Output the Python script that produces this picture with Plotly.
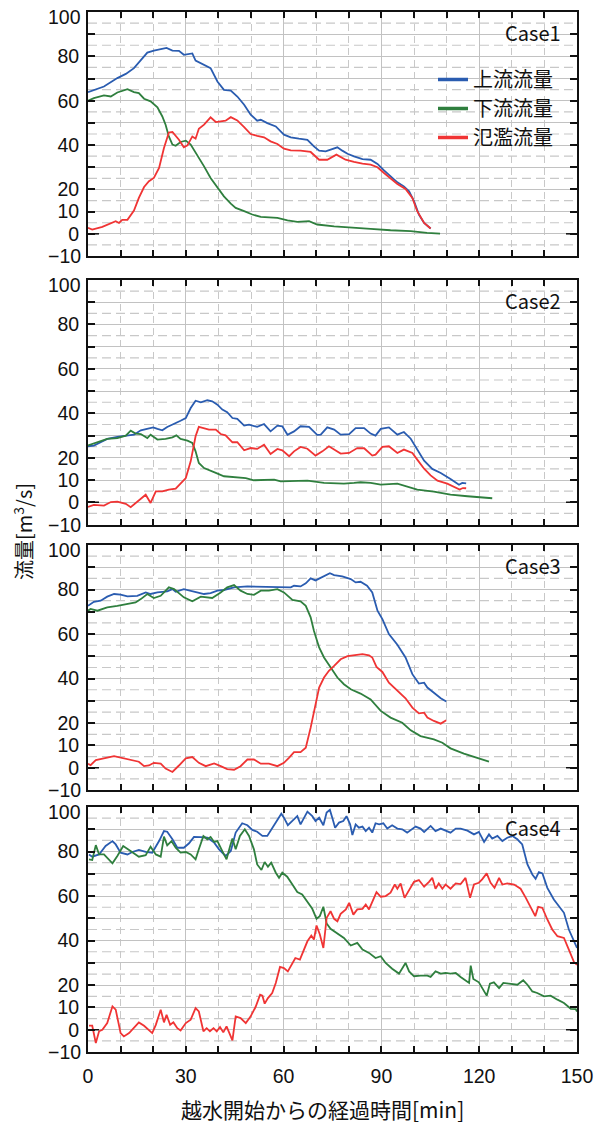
import plotly.graph_objects as go
from plotly.subplots import make_subplots

# ---------------- Case1 ----------------
c1_up_t = [0, 4.9, 9, 11.6, 14.1, 16.2, 18.2, 20.2, 22.3, 24.1, 25.9, 27.9, 29.4, 32, 33, 35.6, 37.6,
           39.7, 41.7, 43.8, 45.8, 47.9, 49.9, 51.9, 53, 55, 57.6, 60.1, 62.2, 64.7, 67.3, 69.3, 70.9,
           72.9, 74.9, 76.5, 78, 79.6, 81.6, 84.2, 86.7, 88.8, 90.8, 92.8, 94.9, 96.9, 98.5, 100,
           101.5, 103.1, 105.1]
c1_up_q = [63.9, 66.4, 70.2, 72.1, 74.7, 78.4, 81.7, 82.6, 83.2, 83.8, 82.6, 82.5, 80.7, 81.3, 78.1,
           76.2, 74.7, 68.7, 64.9, 64.6, 61.9, 58.2, 53.7, 51, 51.4, 49.9, 48.4, 44.7, 43.5, 42.9, 42.4,
           39.4, 37.5, 37.2, 38.4, 39, 37.5, 36.1, 34.9, 33.7, 33.4, 31.5, 28.6, 25.9, 23.2, 21.4, 19.2,
           14.7, 8.7, 4.9, 2.4]

c1_dn_t = [0, 1.8, 4.9, 7, 9, 12.1, 14.1, 15.6, 17.2, 19.2, 21.3, 22.8, 23.8, 24.8, 25.9, 26.9, 28.4,
           30, 31.5, 33.5, 35.6, 37.6, 39.7, 41.7, 43.8, 45.3, 47.9, 50.4, 53, 58.1, 61.2, 64.2, 67.8,
           70.3, 75.5, 80.6, 86.7, 92.8, 99, 104, 108]
c1_dn_q = [60, 61.2, 62.4, 61.9, 63.7, 65.2, 63.9, 63.4, 60.9, 59.7, 57, 52.9, 49.2, 43.9, 40.2, 39.7,
           41.4, 42, 40.2, 35.7, 30.4, 25.2, 21, 16.9, 13.6, 11.7, 10.2, 8.7, 7.6, 7.2, 6.1, 5.4, 5.7,
           4.2, 3.4, 2.7, 2.2, 1.6, 1.2, 0.4, 0.1]

c1_ov_t = [0, 1.3, 4.4, 7, 8.5, 9.5, 10.5, 12.1, 14.1, 15.6, 17.2, 18.7, 20.2, 21.8, 23.3, 24.8, 25.9,
           27.9, 29.4, 30.5, 32, 33, 34, 35.6, 37.6, 39.2, 40.7, 42.2, 43.8, 45.8, 47.9, 49.9, 51.9,
           54, 56, 58.1, 60.1, 62.2, 65.2, 68.3, 70.9, 73.4, 76.2, 79, 81.6, 84.2, 86.7, 88.8, 90.8,
           92.8, 94.9, 97.4, 99.5, 101, 103.1, 105.1]
c1_ov_q = [2.7, 1.9, 3.1, 4.9, 5.7, 4.9, 6.3, 6.3, 10.5, 16.2, 21.1, 23.7, 25.2, 29.7, 38.7, 45.7, 45.9,
           42.4, 39, 39.9, 43.9, 42.9, 47.4, 49.2, 52.5, 50.4, 50.7, 51, 52.6, 51.1, 48.1, 45, 44.2,
           43.5, 41.7, 40.5, 38.4, 37.6, 37.5, 36.9, 33.4, 33.4, 35.7, 33.4, 32.4, 31.6, 31.2, 30, 27.4,
           24.9, 22.5, 20.2, 16.2, 10.2, 4.9, 2.4]

# ---------------- Case2 ----------------
c2_up_t = [0, 1.8, 3.9, 5.9, 9, 12.1, 14.1, 16.2, 18.2, 20, 21.3, 22.8, 24.3, 26.4, 28.4, 30, 31.5,
           33, 34.6, 36.6, 38.1, 39.7, 41.2, 42.7, 44.3, 45.8, 47.9, 49.4, 51.9, 54, 56, 58.1, 59.6,
           61.2, 63.2, 65.2, 67.8, 70.3, 71.4, 73.4, 75.5, 77.5, 80.1, 82.1, 84.7, 86.7, 88.2, 89.8,
           92.3, 94.9, 96.9, 99, 101, 103.1, 105.6, 108.2, 111.2, 113.8, 114.8, 116]
c2_up_q = [25.2, 25.5, 27, 28.5, 29.4, 30, 30.4, 32.4, 33.1, 33.7, 33, 32.4, 33.9, 35.2, 36.7, 37.9,
           42.4, 45.7, 45, 45.9, 45.4, 43.9, 41.7, 40.5, 37.9, 37.5, 34.5, 34.9, 33.9, 35.2, 31.9, 34.5,
           34.2, 30.4, 31.9, 34.2, 33.9, 30.3, 30.4, 33.7, 32.7, 30.4, 30.7, 33.4, 33.4, 30.9, 30, 33,
           33.7, 30.4, 31.6, 28.6, 23.7, 18.7, 15, 13.2, 10.5, 7.9, 8.7, 8.5]

c2_dn_t = [0, 2.9, 5.9, 9, 11.6, 13.1, 14.6, 16.2, 18.2, 19.2, 21.3, 23.8, 25.9, 27.1, 28.4, 30.5, 32,
           33, 34, 35.6, 37.1, 39.2, 41.7, 44.8, 46.8, 48.4, 50.9, 54.5, 57.1, 59.1, 64.2, 67.3, 72.4,
           78.5, 81.6, 83.6, 86.7, 89.8, 94.9, 98, 101, 106.1, 111.2, 116.4, 121.5, 124]
c2_dn_q = [25.6, 27, 28.5, 28.9, 30, 32.2, 30.9, 30.7, 28.9, 30.4, 28.2, 28.5, 29.2, 30.1, 28.5, 27.7,
           26.7, 22.9, 17.7, 15.4, 14.4, 13.2, 11.7, 11.4, 10.9, 10.9, 9.9, 9.9, 10.2, 9.4, 9.4, 9.7,
           8.7, 8.4, 8.7, 9, 8.7, 7.9, 8.4, 7.2, 5.7, 4.8, 3.4, 2.7, 2.1, 1.8]

c2_ov_t = [0, 1.8, 4.9, 7, 9, 11.6, 13.1, 15.1, 17.7, 19.2, 20.8, 22.8, 24.8, 26.9, 28.4, 30, 31.5, 33,
           34, 35.6, 37.1, 39.2, 40.7, 42.2, 44.3, 45.8, 47.9, 49.9, 51.9, 54, 56, 58.1, 59.6, 61.7,
           63.2, 65.2, 67.3, 69.8, 71.9, 73.9, 77.5, 80.1, 82.6, 84.7, 87.2, 88.2, 90.3, 92.3, 94.9,
           96.9, 99.5, 101, 103.1, 105.1, 107.2, 110.2, 112.3, 114, 115, 116]
c2_ov_q = [-2.1, -1.2, -1.5, 0.1, 0.3, -0.7, -2.2, 0.3, 3.4, -0.3, 4.9, 4.9, 5.7, 6.1, 8.4, 10.9, 18.4,
           29.7, 33.9, 33.4, 32.7, 32.7, 30.7, 30.1, 27, 27, 23.4, 24.4, 24, 25.9, 21.7, 24, 23.4, 20.7,
           22.9, 24.9, 24.1, 21, 22.9, 25.2, 21.9, 22.2, 24.4, 24.3, 21, 21.4, 24.9, 25.2, 22.2, 23.7,
           22.2, 19.2, 15.1, 12.1, 9.7, 8.4, 6.9, 5.7, 6.4, 6.3]

# ---------------- Case3 ----------------
c3_up_t = [0, 1.8, 3.9, 5.9, 8, 10, 12.1, 15.1, 17.7, 19.2, 21.3, 24.3, 25.9, 26.9, 29.4, 32.5, 35.6,
           37.6, 39.7, 41.7, 44.8, 48.9, 51.9, 56, 60.1, 62.2, 63.2, 65.2, 66.8, 68.3, 69.8, 71.9,
           74.2, 75.5, 78, 80.6, 82.1, 83.6, 85.6, 87.2, 88.8, 90.3, 92.3, 94.9, 97.4, 99.5, 101.5,
           103.1, 104.1, 106.1, 108.2, 109.9]
c3_up_q = [72.7, 74.5, 75, 76.8, 78, 77.7, 76.9, 77.2, 78.7, 78, 78.7, 79.2, 80.2, 79, 80.2, 79.2, 78,
           78.4, 79.5, 79.8, 81, 81.4, 81.3, 81.4, 81, 81, 81.7, 81.4, 82.8, 85, 84.1, 85.8, 87.3, 86.5,
           85.9, 84.7, 83.2, 83.5, 81.7, 78.7, 70.5, 66.7, 60, 55.2, 49.5, 42, 37.8, 38.2, 36, 33.7,
           31.2, 29.7]

c3_dn_t = [0, 0.8, 2.9, 5.9, 9, 12.1, 14.6, 16.2, 18.2, 20.2, 22.3, 24.8, 26.4, 29.4, 32, 34.6, 38.1,
           40.7, 42.7, 44.8, 46.8, 48.9, 50.9, 53, 55.5, 58.1, 60.1, 62.7, 65.2, 66.8, 68.3, 69.3,
           70.9, 72.4, 74.4, 76.5, 78.5, 80.6, 83.6, 86.7, 89.8, 92.8, 96.4, 99, 102, 106.1, 108.7,
           111.2, 115.3, 118.9, 121.5, 123]
c3_dn_q = [70.5, 71.3, 70.5, 72, 72.7, 73.5, 74.2, 75.7, 78, 76.2, 77.2, 81, 80.2, 76.5, 74.7, 76.8,
           76.2, 78.7, 81, 82, 79.5, 78, 77.6, 79.5, 79.5, 80.2, 78.7, 75.3, 74.7, 72.7, 67.5, 61.5,
           54, 49.5, 45, 40.5, 37.5, 35.2, 33.3, 30.7, 25.5, 22.5, 20.2, 16.8, 14.2, 12.7, 11.2, 8.7,
           6.3, 4.5, 3.4, 2.7]

c3_ov_t = [0, 0.8, 2.4, 3.9, 5.9, 8, 10, 12.1, 14.1, 15.6, 17.2, 18.7, 20.2, 22.3, 23.8, 25.9, 27.9,
           30, 32, 34, 36.1, 38.7, 40.7, 42.7, 44.8, 46.8, 48.9, 50.9, 53, 55.5, 58.1, 60.1, 61.7,
           63.2, 65.2, 66.8, 68.3, 69.8, 70.9, 72.4, 73.9, 75.5, 77.5, 79.6, 82.1, 84.2, 86.2, 87.2,
           88.5, 90.3, 92.3, 94.9, 97.4, 99.5, 101.5, 103.1, 104.1, 106.1, 108.2, 109.9]
c3_ov_q = [1.8, 1.2, 3.4, 4, 4.5, 5.2, 4.5, 3.7, 3.3, 2.7, 0.7, 1, 2.2, 1.8, -0.4, -1.9, 1, 4.2, 4.8,
           2.2, 0.7, 1.9, 0.7, -0.6, -0.9, 0.7, 3.7, 3.7, 1.8, 1.8, 0.7, 2.2, 4.5, 7, 7, 9, 18, 28.5,
           36, 40.5, 43.5, 45.7, 48.7, 50.1, 50.5, 51, 50.5, 49.5, 45.3, 43, 38.2, 34.8, 31.2, 27, 24.4,
           24.7, 22.5, 21, 19.8, 21.3]

# ---------------- Case4 ----------------
c4_up_t = [0.3, 1.3, 3.4, 5.4, 7.5, 8.5, 10, 12.1, 13.6, 15.6, 17.7, 19.7, 21.8, 23.3, 24.3, 25.9,
           27.4, 29.4, 31, 32.5, 34.6, 36.6, 38.7, 40.2, 42.2, 43.8, 45.3, 47.3, 48.9, 50.4, 51.9,
           53.5, 55, 56.5, 58.1, 59.3, 60.1, 61.3, 62.6, 64.2, 65.2, 66.3, 67.3, 68.8, 69.8, 70.9,
           72.2, 73.2, 74.2, 75, 75.8, 77, 78.3, 79.3, 80.4, 81.1, 82.1, 83.1, 84.2, 85.2, 86.2, 87.2,
           88.2, 89.3, 90.6, 91.8, 93.3, 94.9, 96.4, 97.9, 99.5, 100.5, 102, 103.1, 105.1, 106.6,
           108.2, 109.7, 111.2, 112.8, 114.3, 116.4, 118.4, 119.9, 121.5, 123, 124, 125.6, 127.1,
           128.6, 130.2, 131.7, 133.2, 134.8, 136.3, 137.3, 138.3, 139.4, 140.9, 142.9, 144.5, 146,
           147.5, 149.1, 150]
c4_up_q = [78.7, 77.7, 78.7, 82.5, 84.7, 83.2, 79.5, 78.7, 79.8, 80.7, 79.9, 79.5, 84.7, 89.2, 88.9,
           85.5, 81.7, 81.7, 83.7, 86.6, 86.5, 86.2, 84, 81, 78, 80.2, 88.5, 92.7, 91.8, 89.7, 88.9,
           87, 87, 90.7, 94.5, 97, 95.2, 91.8, 93.7, 95.9, 92.2, 95.2, 97.9, 95.9, 93.7, 95.2, 91.8,
           97.5, 98.7, 94.8, 90.7, 93, 93.7, 95.9, 92.2, 87.4, 92.2, 90.7, 91.2, 89.2, 90.7, 88.5,
           92.7, 92.2, 92.7, 90.3, 91.8, 90.3, 90, 88.5, 90, 91.2, 90.3, 88.8, 91.5, 89.2, 90.3, 89.4,
           88.5, 90.3, 90.3, 89.4, 87.7, 88.8, 84.3, 87.7, 85.8, 87, 84.7, 86.2, 87, 85.5, 83.2, 74.2,
           69.7, 67.8, 70.8, 70.2, 63.7, 58.5, 55.5, 52.5, 45, 39.7, 36.7]

c4_dn_t = [0.3, 1.3, 2.4, 3.4, 4.9, 7.5, 9, 10.8, 12.6, 14.1, 15.6, 17.7, 19.2, 20.8, 22.3, 23.3,
           24.3, 25.6, 26.9, 28.4, 30, 31.5, 33, 34, 35.4, 36.6, 37.6, 38.7, 39.7, 41.2, 42.5, 43.6,
           44.3, 45.3, 46.6, 48.1, 49.4, 50.9, 51.9, 53.2, 54.2, 55.2, 56.2, 57.6, 58.6, 59.6, 61.1,
           62.7, 64.2, 65.7, 67.3, 68.8, 70.1, 71.1, 72.2, 73.2, 74.4, 76.5, 78.5, 80.6, 82.6, 84.2,
           86.2, 88.2, 89.8, 91.3, 93.3, 95.4, 97.4, 98.5, 100, 102, 104.1, 105.1, 106.6, 108.2,
           109.7, 111.2, 112.8, 114.3, 115.8, 116.9, 117.4, 118.2, 119.9, 120.9, 122.3, 123.3, 124.5,
           126.1, 127.4, 129.1, 131.7, 133.5, 134.8, 136.3, 137.8, 139.9, 141.9, 144, 146, 148.1,
           149.6, 150]
c4_dn_q = [76.5, 76.2, 82.9, 78.7, 78.7, 74.7, 78, 82.5, 80.7, 79.2, 77.7, 78.4, 82.2, 78.7, 77.7,
           86.7, 82.8, 84.7, 81.7, 79.5, 79.8, 78.7, 76.5, 81, 87, 85.5, 86.5, 84.3, 84.7, 80.2, 76.5,
           82.5, 85.9, 81, 87, 90, 87, 81, 74.2, 71.7, 75.3, 73.2, 75, 70.5, 68.2, 70.5, 68.7, 65.2,
           61.8, 60.7, 57.3, 54.3, 49.8, 51, 55.2, 47.7, 45.3, 43, 41.2, 37.8, 39, 36, 34.5, 32.2, 33,
           30, 27.4, 25.2, 30, 26.2, 24, 24.3, 24.3, 23.7, 26.2, 25.2, 25.5, 25.2, 25.5, 23.7, 22.2,
           21, 28.8, 22.8, 21.3, 18.7, 15.3, 20.7, 21.3, 18.7, 21, 20.7, 20.2, 22.2, 20.2, 17.2, 16.5,
           15, 15.3, 13.5, 12, 9.4, 9.3, 8.2]

c4_ov_t = [0.3, 1.3, 2.4, 3.4, 4.4, 5.9, 7.5, 8.5, 10, 11, 12.6, 14.1, 15.6, 17.2, 18.7, 19.7, 20.8,
           22.3, 23.3, 24.1, 25.2, 26.2, 27.4, 28.4, 30, 31.5, 33, 34, 35.4, 36.4, 37.4, 38.5, 39.5,
           40.5, 41.5, 42.5, 44.3, 45.3, 46.8, 48.4, 49.9, 51.4, 52.8, 53.5, 54.2, 55.2, 56.5, 57.6,
           58.9, 60.1, 61.3, 62.6, 63.6, 65, 66.3, 67.3, 68.5, 69.3, 70.1, 71.1, 72.2, 73.2, 74.4,
           75.5, 76.5, 77.5, 79.1, 80.1, 81.4, 82.6, 84.2, 85.2, 86.2, 87.2, 88.5, 89.8, 91.3, 92.8,
           94.1, 94.9, 95.9, 97.1, 98.5, 100, 101.5, 103.1, 104.6, 105.6, 106.6, 107.6, 108.7, 109.7,
           111.2, 112.8, 114.3, 115.8, 117.2, 118.4, 119.9, 120.9, 122.3, 123.5, 124.7, 126.1, 127.1,
           128.6, 130.7, 132.7, 134.3, 135.8, 137.2, 138.1, 139.4, 140.9, 142.4, 144, 146, 147.5,
           149.1, 150]
c4_ov_q = [1.8, 1.8, -6, -0.7, 0, 3, 10.5, 9, -1.5, -3, -1.5, 0.7, 3.3, 1.8, 0, -1.5, 2.2, 9, 3.3,
           6.7, 2.2, 3.3, 0.7, -0.3, 3, 4.5, 9.7, 8.2, -0.7, 0.7, -0.7, 0.7, -0.7, 1.2, -1.2, 1.5,
           -4.8, 6, 5.2, 3, 6, 10.2, 15.7, 15.3, 11.7, 14.2, 16.5, 21, 28.2, 27.7, 26.2, 30, 32.2, 31.5,
           36, 39.7, 42.3, 40.5, 46.8, 42.9, 36.7, 50.2, 53.2, 49.8, 48.7, 52, 54, 57, 51.7, 54, 54.3,
           56.2, 54, 57.3, 61.8, 59.7, 60, 61.5, 65.2, 63.3, 65.7, 59.2, 63, 66.4, 67.2, 64.2, 66.4,
           68.2, 63.3, 65.7, 63.3, 65.2, 63.3, 65.7, 65.4, 68.2, 59.2, 65.2, 66, 67.5, 70.2, 66, 63.7,
           68.2, 65.2, 65.7, 65.2, 63.3, 59.2, 54.7, 51, 55.2, 54.7, 49.5, 45, 42, 41.2, 36, 30.3, 29.2]

case_labels = ["Case1", "Case2", "Case3", "Case4"]
series_names = ["上流流量", "下流流量", "氾濫流量"]
series_colors = ["#2a5cb0", "#2f7f3e", "#f03434"]

# labelled y ticks; the range ends (-10, 100) are labelled separately
y_tick_vals = [0, 10, 20, 40, 60, 80]
y_tick_text = ["0", "10", "20", "40", "60", "80"]
y_unlabelled_vals = [-10, 30, 50, 70, 90, 100]
y_end_labels = [(100, "100", -5), (-10, "−10", 0)]
y_half_lines = [-5, 5, 15, 25, 35, 45, 55, 65, 75, 85, 95]

cases = [
    ((c1_up_t, c1_up_q), (c1_dn_t, c1_dn_q), (c1_ov_t, c1_ov_q)),
    ((c2_up_t, c2_up_q), (c2_dn_t, c2_dn_q), (c2_ov_t, c2_ov_q)),
    ((c3_up_t, c3_up_q), (c3_dn_t, c3_dn_q), (c3_ov_t, c3_ov_q)),
    ((c4_up_t, c4_up_q), (c4_dn_t, c4_dn_q), (c4_ov_t, c4_ov_q)),
]

FONT = "Noto Sans CJK JP"
NUM_FONT = "Liberation Sans"
NUM_SIZE = 19.5
INK = "#111"
GRID = "#c2c2c2"
DASH_GRID = "#c8c8c8"
W, H = 600, 1124
ML, MR, MT, MB = 88, 23, 12, 72
plot_w = W - ML - MR
plot_h = H - MT - MB

# panel top / bottom edges in pixels
panel_px = [(12, 256), (280, 524.5), (545, 790), (807, 1052)]
domains = [((H - MB - b) / plot_h, (H - MB - t) / plot_h) for t, b in panel_px]

fig = make_subplots(rows=4, cols=1)

for i, series in enumerate(cases, start=1):
    for (t, q), name, col in zip(series, series_names, series_colors):
        fig.add_trace(
            go.Scatter(x=t, y=q, mode="lines", name=name,
                       line=dict(color=col, width=1.8),
                       showlegend=False),
            row=i, col=1)

# legend keys (drawn with a heavier stroke than the data lines)
for name, col in zip(series_names, series_colors):
    fig.add_trace(
        go.Scatter(x=[None], y=[None], mode="lines", name=name,
                   line=dict(color=col, width=3.5), showlegend=True),
        row=1, col=1)

axis_common = dict(
    showline=True, linecolor=INK, linewidth=2, mirror="ticks",
    ticks="inside", tickcolor=INK, tickwidth=1.5, automargin=False,
    zeroline=False, showgrid=True, gridcolor=GRID, gridwidth=1.3,
    tickfont=dict(family=NUM_FONT, size=NUM_SIZE, color=INK),
)

for i in range(1, 5):
    xa = "xaxis" if i == 1 else f"xaxis{i}"
    ya = "yaxis" if i == 1 else f"yaxis{i}"
    xref_dom = "x domain" if i == 1 else f"x{i} domain"
    yref_dat = "y" if i == 1 else f"y{i}"
    yref_dom = "y domain" if i == 1 else f"y{i} domain"

    fig.layout[xa].update(
        range=[0, 150], tick0=0, dtick=30, ticklen=6,
        showticklabels=(i == 4), ticklabelstandoff=6,
        minor=dict(tick0=0, dtick=10, ticks="inside", ticklen=6, tickcolor=INK,
                   tickwidth=1.5, showgrid=True, gridcolor=DASH_GRID,
                   griddash="7px,5px", gridwidth=1.2),
        domain=[0, 1], **axis_common)
    fig.layout[ya].update(
        range=[-10, 100], tickmode="array", tickvals=y_tick_vals, ticktext=y_tick_text,
        ticklen=7, ticklabelstandoff=3,
        minor=dict(tickvals=y_unlabelled_vals, ticks="inside", ticklen=7, tickcolor=INK,
                   tickwidth=1.5, showgrid=True, gridcolor=GRID, gridwidth=1.3),
        domain=list(domains[i - 1]), **axis_common)

    # dashed half-step horizontal grid
    for v in y_half_lines:
        fig.add_shape(type="line", layer="below", xref=xref_dom, yref=yref_dat,
                      x0=0, x1=1, y0=v, y1=v,
                      line=dict(color=DASH_GRID, width=1.2, dash="9px,5px"))

    # longer tick marks at the zero line on both sides
    tick0_len = 11 / plot_w
    for x0, x1 in ((0, tick0_len), (1 - tick0_len, 1)):
        fig.add_shape(type="line", xref=xref_dom, yref=yref_dat,
                      x0=x0, x1=x1, y0=0, y1=0,
                      line=dict(color=INK, width=1.5))

    # end-of-range y labels
    for v, txt, shift in y_end_labels:
        fig.add_annotation(text=txt, showarrow=False, xref=xref_dom, yref=yref_dat,
                           x=0, xanchor="right", xshift=-5, y=v, yanchor="middle",
                           yshift=shift, font=dict(family=NUM_FONT, size=NUM_SIZE, color=INK))

    top_px, bot_px = panel_px[i - 1]
    fig.add_annotation(
        text=case_labels[i - 1], showarrow=False,
        xref=xref_dom, yref=yref_dom,
        x=(563 - ML) / plot_w, xanchor="right",
        y=1 - 20 / (bot_px - top_px), yanchor="middle",
        font=dict(family=FONT, size=20, color=INK))

# axis titles
fig.add_annotation(
    text="越水開始からの経過時間[min]", showarrow=False,
    xref="paper", yref="paper",
    x=(322 - ML) / plot_w, xanchor="center",
    y=-(1109 - (H - MB)) / plot_h, yanchor="middle",
    font=dict(family=FONT, size=21, color=INK))
fig.add_annotation(
    text="流量[m<sup>3</sup>/s]", showarrow=False, textangle=-90,
    xref="paper", yref="paper",
    x=(23 - ML) / plot_w, xanchor="center",
    y=0.5, yanchor="middle",
    font=dict(family=FONT, size=20, color=INK))

fig.update_layout(
    width=W, height=H,
    margin=dict(l=ML, r=MR, t=MT, b=MB, autoexpand=False),
    paper_bgcolor="white", plot_bgcolor="white",
    font=dict(family=FONT, size=20, color=INK),
    showlegend=True,
    legend=dict(x=(433 - ML) / plot_w, xanchor="left",
                y=(H - MB - 60) / plot_h, yanchor="top",
                bgcolor="rgba(0,0,0,0)",
                font=dict(family=FONT, size=20, color=INK),
                itemwidth=30, tracegroupgap=0),
)

fig.write_html("out.html")
